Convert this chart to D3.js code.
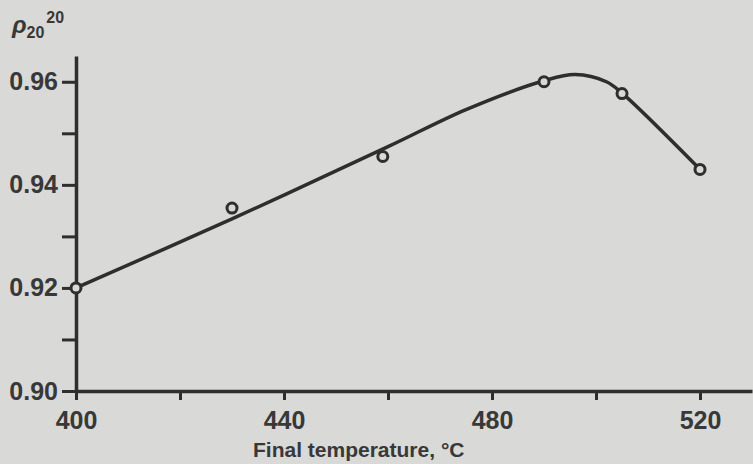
<!DOCTYPE html>
<html>
<head>
<meta charset="utf-8">
<script src="https://cdn.jsdelivr.net/npm/d3@7"></script>
<style>
  body { margin: 0; background: #d9d9d7; }
  svg { display: block; }
  text { font-family: "Liberation Sans", Arial, sans-serif; font-weight: bold; fill: #383838; }
</style>
</head>
<body>
<svg id="chart" width="753" height="464"></svg>
<script>
// measured points: final temperature (C) vs density rho 20/20
const temps = [400, 430, 459, 490, 505, 520];
const density = [0.920, 0.9355, 0.9455, 0.9600, 0.9577, 0.9430];

// hand drawn trend line
const fitTemps = [400, 430, 460, 475, 490, 496, 502, 505, 520];
const fitDensity = [0.920, 0.9334, 0.9474, 0.9546, 0.9602, 0.9614, 0.9600, 0.9578, 0.9430];

// axis ticks
const xTicks = [400, 420, 440, 460, 480, 500, 520];
const xLabels = [400, 440, 480, 520];
const yTicks = [0.90, 0.91, 0.92, 0.93, 0.94, 0.95, 0.96];
const yLabels = [0.90, 0.92, 0.94, 0.96];

const ink = '#2e2e2e';
const paper = '#d9d9d7';

let svg = d3.select('#chart');

let x = d3.scaleLinear().domain([400, 530]).range([76, 752]);
let y = d3.scaleLinear().domain([0.90, 0.965]).range([391, 56]);

// x axis
let xAxis = svg.append('g')
  .attr('transform', 'translate(0,' + y(0.90) + ')')
  .call(d3.axisBottom(x)
    .tickValues(xTicks)
    .tickSize(9)
    .tickSizeOuter(0)
    .tickPadding(11)
    .tickFormat(d => xLabels.includes(d) ? d : ''));

// y axis
let yAxis = svg.append('g')
  .attr('transform', 'translate(' + x(400) + ',0)')
  .call(d3.axisLeft(y)
    .tickValues(yTicks)
    .tickSize(14)
    .tickSizeOuter(0)
    .tickPadding(4)
    .tickFormat(d => yLabels.includes(d) ? d3.format('.2f')(d) : ''));

[xAxis, yAxis].forEach(g => {
  g.select('.domain').attr('stroke', ink).attr('stroke-width', 3.5);
  g.selectAll('.tick line').attr('stroke', ink).attr('stroke-width', 3);
  g.selectAll('.tick text')
    .style('font-size', '25px')
    .attr('fill', '#383838');
});

// trend line
let line = d3.line()
  .x(d => x(d[0]))
  .y(d => y(d[1]))
  .curve(d3.curveCatmullRom.alpha(0.5));

svg.append('path')
  .datum(fitTemps.map((t, i) => [t, fitDensity[i]]))
  .attr('d', line)
  .attr('fill', 'none')
  .attr('stroke', ink)
  .attr('stroke-width', 3.5);

// data points
svg.selectAll('circle.pt')
  .data(temps.map((t, i) => [t, density[i]]))
  .enter().append('circle')
  .classed('pt', true)
  .attr('cx', d => x(d[0]))
  .attr('cy', d => y(d[1]))
  .attr('r', 5)
  .attr('fill', paper)
  .attr('stroke', ink)
  .attr('stroke-width', 3);

// axis titles
svg.append('text')
  .attr('x', 253)
  .attr('y', 457)
  .style('font-size', '21px')
  .text('Final temperature, \u00B0C');

let ylab = svg.append('text')
  .attr('x', 12)
  .attr('y', 33)
  .style('font-size', '24px');
ylab.append('tspan').style('font-style', 'italic').text('\u03C1');
ylab.append('tspan').attr('dy', 5).style('font-size', '16px').text('20');
ylab.append('tspan').attr('dy', -15).attr('dx', 2).style('font-size', '16px').text('20');
</script>
</body>
</html>
